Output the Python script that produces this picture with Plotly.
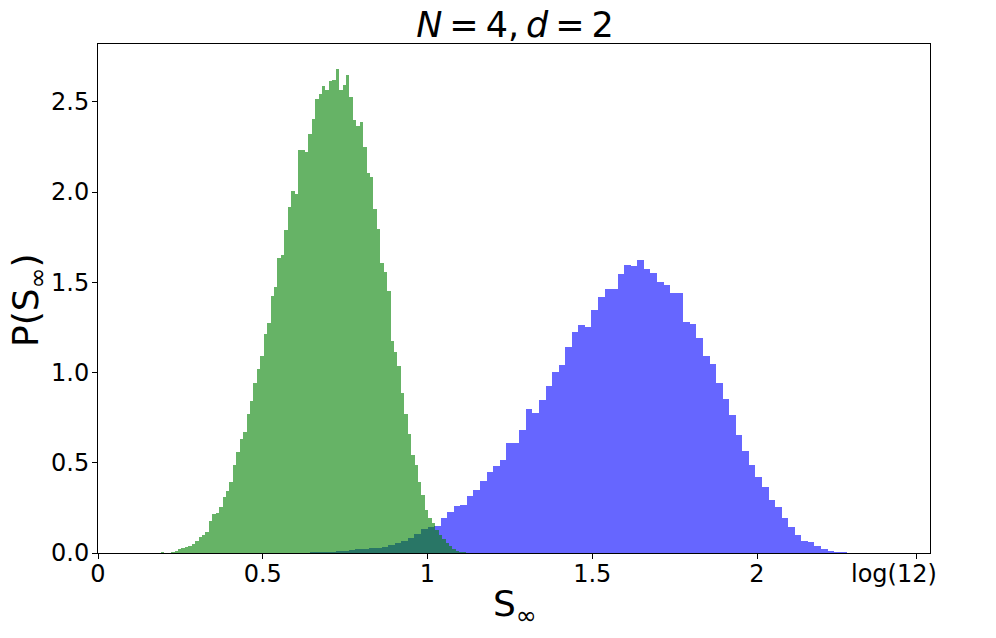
import numpy as np
import plotly.graph_objects as go

# ---- data ----
green_bin_start = 0.1906
green_bin_width = 0.01041
green_density = [
    0.004, 0.001, 0.002, 0.004, 0.011, 0.020, 0.030, 0.033, 0.037, 0.050,
    0.068, 0.087, 0.098, 0.116, 0.177, 0.216, 0.222, 0.257, 0.312, 0.345,
    0.395, 0.488, 0.560, 0.634, 0.669, 0.771, 0.841, 0.941, 1.018, 1.094,
    1.214, 1.273, 1.425, 1.476, 1.637, 1.652, 1.790, 1.918, 2.003, 1.990,
    2.234, 2.230, 2.224, 2.323, 2.404, 2.515, 2.544, 2.588, 2.563, 2.615,
    2.622, 2.681, 2.566, 2.594, 2.648, 2.529, 2.400, 2.363, 2.389, 2.249,
    2.108, 2.083, 1.906, 1.795, 1.609, 1.558, 1.451, 1.177, 1.116, 1.038,
    0.885, 0.771, 0.658, 0.542, 0.487, 0.393, 0.319, 0.240, 0.192, 0.165,
    0.125, 0.100, 0.078, 0.055, 0.037, 0.022, 0.013, 0.007, 0.004,
]

blue_bin_start = 0.3036
blue_bin_width = 0.0199
blue_density = [
    0.0, 0.0, 0.0, 0.0, 0.0, 0.0, 0.0, 0.0, 0.0, 0.0,
    0.0005, 0.0005, 0.001, 0.001, 0.001, 0.002, 0.002, 0.003, 0.004, 0.005,
    0.007, 0.009, 0.011, 0.015, 0.020, 0.023, 0.026, 0.030, 0.035, 0.044,
    0.055, 0.069, 0.083, 0.103, 0.131, 0.146, 0.150, 0.192, 0.228, 0.261,
    0.266, 0.316, 0.349, 0.401, 0.447, 0.480, 0.517, 0.608, 0.612, 0.682,
    0.798, 0.776, 0.845, 0.928, 1.002, 1.039, 1.143, 1.227, 1.262, 1.251,
    1.345, 1.416, 1.464, 1.463, 1.546, 1.595, 1.590, 1.625, 1.573, 1.550,
    1.500, 1.487, 1.441, 1.440, 1.279, 1.268, 1.190, 1.094, 1.049, 0.944,
    0.852, 0.767, 0.653, 0.566, 0.486, 0.420, 0.368, 0.291, 0.256, 0.194,
    0.146, 0.102, 0.069, 0.059, 0.040, 0.020, 0.012, 0.008, 0.004, 0.002,
]

x_tick_values = [0, 0.5, 1, 1.5, 2, float(np.log(12))]
x_tick_labels = ["0", "0.5", "1", "1.5", "2",
                 "log(12)" + "\u00a0" * 6]
y_tick_values = [0.0, 0.5, 1.0, 1.5, 2.0, 2.5]
y_tick_labels = ["0.0", "0.5", "1.0", "1.5", "2.0", "2.5"]
x_range = [0, 2.525]
y_range = [0, 2.82]

title_text = "<i>N</i>\u2009=\u20094,\u2009<i>d</i>\u2009=\u20092"
x_label = "S<sub>∞</sub>"
y_label = "P(S<sub>∞</sub>)"

# ---- figure ----
FONT = "DejaVu Sans"
W, H = 996, 638
ML, MR, MT, MB = 98, 66, 44, 85
PW, PH = W - ML - MR, H - MT - MB


def centers(start, width, n):
    return [start + (i + 0.5) * width for i in range(n)]


fig = go.Figure()
fig.add_trace(go.Bar(
    x=centers(blue_bin_start, blue_bin_width, len(blue_density)),
    y=blue_density,
    width=blue_bin_width,
    marker=dict(color="rgba(0,0,255,0.6)", line=dict(width=0)),
    showlegend=False,
))
fig.add_trace(go.Bar(
    x=centers(green_bin_start, green_bin_width, len(green_density)),
    y=green_density,
    width=green_bin_width,
    marker=dict(color="rgba(0,128,0,0.6)", line=dict(width=0)),
    showlegend=False,
))

axis_common = dict(
    showline=True, linecolor="black", linewidth=1, mirror=True,
    ticks="outside", ticklen=5, tickwidth=1, tickcolor="black",
    showgrid=False, zeroline=False, automargin=False,
    tickfont=dict(family=FONT, size=24, color="black"),
)

fig.update_layout(
    width=W, height=H, autosize=False,
    margin=dict(l=ML, r=MR, t=MT, b=MB, pad=0, autoexpand=False),
    paper_bgcolor="white", plot_bgcolor="white",
    barmode="overlay", bargap=0,
    title=dict(text=title_text, x=515 / W, xanchor="center", xref="container",
               y=1 - 25 / H, yref="container", yanchor="middle",
               font=dict(family=FONT, size=35, color="black")),
    xaxis=dict(range=x_range, tickmode="array", tickvals=x_tick_values,
               ticktext=x_tick_labels, ticklabelstandoff=-6, **axis_common),
    yaxis=dict(range=y_range, tickmode="array", tickvals=y_tick_values,
               ticktext=y_tick_labels, ticklabelstandoff=-2, **axis_common),
)

# axis titles placed as annotations (pixel-accurate)
fig.add_annotation(text=x_label, xref="paper", yref="paper",
                   x=(515 - ML) / PW, y=-(606 - (MT + PH)) / PH,
                   xanchor="center", yanchor="middle", showarrow=False,
                   font=dict(family=FONT, size=36, color="black"))
fig.add_annotation(text=y_label, xref="paper", yref="paper",
                   x=-(ML - 28) / PW, y=(MT + PH - 300) / PH,
                   xanchor="center", yanchor="middle", showarrow=False,
                   textangle=-90,
                   font=dict(family=FONT, size=36, color="black"))

fig.write_html("out.html",
               config={"displayModeBar": False},
               post_script="document.body.style.margin='0px';")
